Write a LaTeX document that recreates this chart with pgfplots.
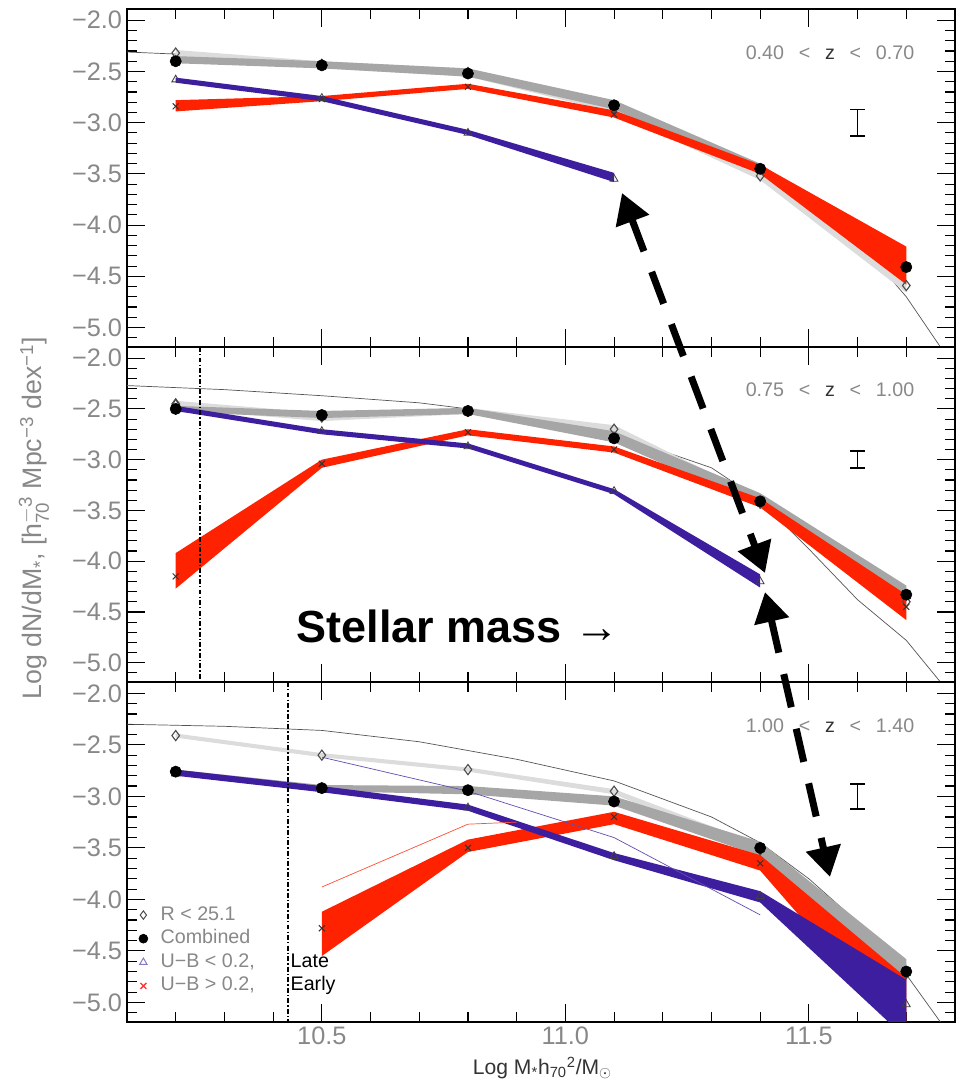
\documentclass[border=0pt]{standalone}
\usepackage{fontspec}
\setmainfont{Liberation Sans}
\usepackage{pgfplots}
\pgfplotsset{compat=1.18}
\usetikzlibrary{arrows.meta}
\definecolor{earlyred}{HTML}{FF2200}
\definecolor{lateblue}{HTML}{3D1E9E}
\definecolor{bandgray}{HTML}{A6A6A6}
\definecolor{lightband}{HTML}{DCDCDC}
\definecolor{labgray}{HTML}{888888}
\definecolor{schgray}{HTML}{555555}
\newcommand\zlab[2]{{\color{labgray}#1\hspace{0.75em}<\hspace{0.75em}}{\color{black!80}z}{\color{labgray}\hspace{0.75em}<\hspace{0.75em}#2}}
\pgfplotsset{
  panel/.style={
    scale only axis, width=207mm, anchor=south west,
    xmin=10.1, xmax=11.8, ymin=-5.19, ymax=-1.89,
    xtick={10.5,11,11.5},
    minor xtick={10.2,10.3,10.4,10.6,10.7,10.8,10.9,11.1,11.2,11.3,11.4,11.6,11.7},
    ytick={-5,-4.5,-4,-3.5,-3,-2.5,-2},
    yticklabels={−5.0,−4.5,−4.0,−3.5,−3.0,−2.5,−2.0},
    minor ytick={-5.1,-4.9,-4.8,-4.7,-4.6,-4.4,-4.3,-4.2,-4.1,-3.9,-3.8,-3.7,-3.6,-3.4,-3.3,-3.2,-3.1,-2.9,-2.8,-2.7,-2.6,-2.4,-2.3,-2.2,-2.1},
    major tick length=4.5mm, minor tick length=2.5mm,
    tick style={black, line width=0.8pt},
    axis line style={line width=1.2pt},
    ticklabel style={font=\fontsize{18}{18}\selectfont, text=labgray},
    clip=true, unbounded coords=jump,
  },
  rmark/.style={forget plot, only marks, mark=diamond, mark size=3.6pt, mark options={draw=black!70, fill=white, line width=0.8pt}},
  cmark/.style={forget plot, only marks, mark=*, mark size=4pt, mark options={draw=black, fill=black}},
  lmark/.style={forget plot, only marks, mark=triangle, mark size=3.2pt, mark options={draw=black!75, line width=0.6pt}},
  emark/.style={forget plot, only marks, mark=x, mark size=3pt, mark options={draw=black!80, line width=0.7pt}},
  band/.style={forget plot, draw=none, fill=#1},
  sch/.style={forget plot, draw=schgray, line width=0.5pt, mark=none},
  ddline/.style={forget plot, draw=black, line width=1.1pt, mark=none, dash pattern=on 3.5pt off 1.5pt on 1pt off 1.5pt},
  ebar/.style={forget plot, draw=black, line width=1.2pt, mark=none},
}
\begin{document}
\begin{tikzpicture}
\useasboundingbox (0,0) rectangle (240mm,271.25mm);

% ---------------- top panel 0.40<z<0.70
\begin{axis}[panel, at={(31.75mm,184.5mm)}, height=84.5mm, xticklabels={}]
\addplot[sch] coordinates {(10.1,-2.31)(10.3,-2.35)(10.5,-2.42)(10.7,-2.49)(10.9,-2.61)(11.1,-2.82)(11.3,-3.25)(11.4,-3.45)(11.5,-3.80)(11.6,-4.15)(11.7,-4.70)(11.77,-5.19)};
\addplot[band=lightband] coordinates {(10.2,-2.29)(10.5,-2.40)(10.8,-2.47)(11.1,-2.81)(11.4,-3.47)(11.7,-4.54)
  (11.7,-4.66)(11.4,-3.56)(11.1,-2.90)(10.8,-2.55)(10.5,-2.47)(10.2,-2.36)} -- cycle;
\addplot[band=bandgray] coordinates {(10.2,-2.35)(10.5,-2.40)(10.8,-2.47)(11.1,-2.78)(11.4,-3.40)(11.7,-4.36)
  (11.7,-4.46)(11.4,-3.49)(11.1,-2.87)(10.8,-2.55)(10.5,-2.47)(10.2,-2.42)} -- cycle;
\addplot[band=earlyred] coordinates {(10.2,-2.78)(10.5,-2.74)(10.8,-2.62)(11.1,-2.88)(11.4,-3.41)(11.7,-4.21)
  (11.7,-4.58)(11.4,-3.50)(11.1,-2.95)(10.8,-2.67)(10.5,-2.79)(10.2,-2.89)} -- cycle;
\addplot[band=lateblue] coordinates {(10.2,-2.56)(10.5,-2.74)(10.8,-3.07)(11.1,-3.49)
  (11.1,-3.58)(10.8,-3.12)(10.5,-2.79)(10.2,-2.61)} -- cycle;
\addplot[rmark] coordinates {(10.2,-2.32)(10.5,-2.43)(10.8,-2.51)(11.1,-2.86)(11.4,-3.52)(11.7,-4.59)};
\addplot[emark] coordinates {(10.2,-2.84)(10.5,-2.77)(10.8,-2.65)(11.1,-2.92)(11.4,-3.47)};
\addplot[lmark] coordinates {(10.2,-2.58)(10.5,-2.76)(10.8,-3.10)(11.1,-3.55)};
\addplot[cmark] coordinates {(10.2,-2.40)(10.5,-2.44)(10.8,-2.52)(11.1,-2.83)(11.4,-3.45)(11.7,-4.41)};
\addplot[ebar] coordinates {(11.585,-2.87)(11.615,-2.87)(nan,nan)(11.6,-2.87)(11.6,-3.13)(nan,nan)(11.585,-3.13)(11.615,-3.13)};
\end{axis}

% ---------------- middle panel 0.75<z<1.00
\begin{axis}[panel, at={(31.75mm,100.75mm)}, height=83.75mm, xticklabels={}]
\addplot[sch] coordinates {(10.1,-2.27)(10.3,-2.31)(10.5,-2.37)(10.7,-2.44)(10.9,-2.56)(11.1,-2.75)(11.3,-3.08)(11.4,-3.40)(11.5,-3.88)(11.6,-4.38)(11.7,-4.78)(11.77,-5.19)};
\addplot[band=lightband] coordinates {(10.2,-2.42)(10.5,-2.54)(10.8,-2.49)(11.1,-2.66)(11.4,-3.37)(11.7,-4.34)
  (11.7,-4.46)(11.4,-3.47)(11.1,-2.76)(10.8,-2.55)(10.5,-2.62)(10.2,-2.50)} -- cycle;
\addplot[band=bandgray] coordinates {(10.2,-2.47)(10.5,-2.52)(10.8,-2.49)(11.1,-2.72)(11.4,-3.33)(11.7,-4.24)
  (11.7,-4.40)(11.4,-3.46)(11.1,-2.83)(10.8,-2.55)(10.5,-2.59)(10.2,-2.53)} -- cycle;
\addplot[band=earlyred] coordinates {(10.2,-3.92)(10.5,-3.00)(10.8,-2.70)(11.1,-2.87)(11.4,-3.38)(11.7,-4.33)
  (11.7,-4.58)(11.4,-3.47)(11.1,-2.93)(10.8,-2.76)(10.5,-3.08)(10.2,-4.27)} -- cycle;
\addplot[band=lateblue] coordinates {(10.2,-2.47)(10.5,-2.70)(10.8,-2.84)(11.1,-3.29)(11.4,-4.13)
  (11.4,-4.26)(11.1,-3.34)(10.8,-2.89)(10.5,-2.75)(10.2,-2.52)} -- cycle;
\addplot[ddline] coordinates {(10.25,-1.89)(10.25,-5.19)};
\addplot[rmark] coordinates {(10.2,-2.45)(10.5,-2.58)(10.8,-2.52)(11.1,-2.70)(11.4,-3.43)(11.7,-4.40)};
\addplot[emark] coordinates {(10.2,-4.15)(10.5,-3.04)(10.8,-2.73)(11.1,-2.90)(11.4,-3.43)(11.7,-4.45)};
\addplot[lmark] coordinates {(10.2,-2.45)(10.5,-2.72)(10.8,-2.87)(11.1,-3.31)(11.4,-4.20)};
\addplot[cmark] coordinates {(10.2,-2.50)(10.5,-2.56)(10.8,-2.52)(11.1,-2.79)(11.4,-3.41)(11.7,-4.33)};
\addplot[ebar] coordinates {(11.585,-2.915)(11.615,-2.915)(nan,nan)(11.6,-2.915)(11.6,-3.085)(nan,nan)(11.585,-3.085)(11.615,-3.085)};
\end{axis}

% ---------------- bottom panel 1.00<z<1.40
\begin{axis}[panel, at={(31.75mm,15.75mm)}, height=85mm, xticklabels={10.5,11.0,11.5},
  legend style={at={(0.014,0.35)}, anchor=north west, draw=none, fill=none,
    font=\fontsize{14}{14}\selectfont, text=labgray, inner sep=0pt, row sep=0pt, column sep=2.6mm,
    nodes={inner sep=0.6mm, text height=3.6mm, text depth=1.1mm}},
  legend cell align=left]
\addlegendimage{only marks, mark=diamond, mark size=3pt, mark options={draw=black!70, line width=0.7pt}}
\addlegendentry{R < 25.1}
\addlegendimage{only marks, mark=*, mark size=3.2pt, mark options={draw=black, fill=black}}
\addlegendentry{Combined}
\addlegendimage{only marks, mark=triangle, mark size=3pt, mark options={draw=lateblue!60, line width=0.7pt}}
\addlegendentry{\makebox[32.5mm][l]{U−B < 0.2,}\textcolor{black}{Late}}
\addlegendimage{only marks, mark=x, mark size=3pt, mark options={draw=red!80, line width=1pt}}
\addlegendentry{\makebox[32.5mm][l]{U−B > 0.2,}\textcolor{black}{Early}}
\addplot[sch] coordinates {(10.1,-2.30)(10.3,-2.32)(10.5,-2.36)(10.7,-2.47)(10.9,-2.64)(11.1,-2.85)(11.3,-3.20)(11.4,-3.45)(11.5,-3.80)(11.6,-4.22)(11.7,-4.73)(11.77,-5.19)};
\addplot[band=lightband] coordinates {(10.2,-2.39)(10.5,-2.58)(10.8,-2.72)(11.1,-2.93)(11.4,-3.47)(11.7,-4.62)
  (11.7,-4.78)(11.4,-3.56)(11.1,-2.98)(10.8,-2.76)(10.5,-2.62)(10.2,-2.43)} -- cycle;
\addplot[band=bandgray] coordinates {(10.2,-2.74)(10.5,-2.89)(10.8,-2.90)(11.1,-3.00)(11.4,-3.44)(11.7,-4.58)
  (11.7,-4.78)(11.4,-3.58)(11.1,-3.09)(10.8,-2.98)(10.5,-2.95)(10.2,-2.79)} -- cycle;
\addplot[band=earlyred] coordinates {(10.5,-4.12)(10.8,-3.42)(11.1,-3.15)(11.4,-3.57)(11.7,-4.76)
  (11.7,-5.35)(11.4,-3.72)(11.1,-3.27)(10.8,-3.54)(10.5,-4.55)} -- cycle;
\addplot[band=lateblue] coordinates {(10.2,-2.74)(10.5,-2.90)(10.8,-3.08)(11.1,-3.55)(11.4,-3.92)(11.7,-4.78)
  (11.7,-5.35)(11.4,-4.03)(11.1,-3.62)(10.8,-3.14)(10.5,-2.96)(10.2,-2.80)} -- cycle;
\addplot[forget plot, draw=lateblue!80, line width=0.5pt, mark=none] coordinates {(10.5,-2.62)(10.8,-2.95)(11.1,-3.40)(11.4,-4.15)};
\addplot[forget plot, draw=earlyred!80, line width=0.5pt, mark=none] coordinates {(10.5,-3.88)(10.8,-3.27)(10.9,-3.25)};
\addplot[ddline] coordinates {(10.43,-1.89)(10.43,-5.19)};
\addplot[rmark] coordinates {(10.2,-2.41)(10.5,-2.60)(10.8,-2.74)(11.1,-2.95)(11.4,-3.52)(11.7,-4.72)};
\addplot[emark] coordinates {(10.5,-4.28)(10.8,-3.50)(11.1,-3.20)(11.4,-3.65)};
\addplot[lmark] coordinates {(10.2,-2.78)(10.5,-2.94)(10.8,-3.11)(11.1,-3.58)(11.4,-3.97)(11.7,-5.02)};
\addplot[cmark] coordinates {(10.2,-2.76)(10.5,-2.92)(10.8,-2.94)(11.1,-3.05)(11.4,-3.50)(11.7,-4.70)};
\addplot[ebar] coordinates {(11.585,-2.88)(11.615,-2.88)(nan,nan)(11.6,-2.88)(11.6,-3.12)(nan,nan)(11.585,-3.12)(11.615,-3.12)};
\end{axis}

% ---------------- texts
\node[anchor=base, font=\fontsize{14}{14}\selectfont] at (207.5mm,256.25mm) {\zlab{0.40}{0.70}};
\node[anchor=base, font=\fontsize{14}{14}\selectfont] at (207.5mm,172mm) {\zlab{0.75}{1.00}};
\node[anchor=base, font=\fontsize{14}{14}\selectfont] at (207.5mm,88mm) {\zlab{1.00}{1.40}};
\node[rotate=90, text=labgray, font=\fontsize{19}{19}\selectfont] at (8.5mm,141.75mm)
  {Log dN/dM\textsubscript{*}, [h$_{\mathrm{70}}^{\mathrm{-3}}$ Mpc\textsuperscript{−3} dex\textsuperscript{−1}]};
\node[anchor=base west, text=black!80, font=\fontsize{15}{15}\selectfont] at (117mm,2.6mm)
  {Log M\textsubscript{*}h\textsubscript{70}\textsuperscript{2}/M$_\odot$};
\node[anchor=base west, font=\fontsize{32}{32}\selectfont] at (73mm,110.5mm)
  {\bfseries Stellar mass {\normalfont →}};
% ---------------- arrows
\draw[line width=1.75mm, dash pattern=on 8.5mm off 5.5mm,
  {Triangle[length=7.5mm,width=8.5mm]}-{Triangle[length=7.5mm,width=8.5mm]}]
  (155.5mm,223mm) -- (191.25mm,128mm);
\draw[line width=1.75mm, dash pattern=on 8.5mm off 5.5mm,
  {Triangle[length=7.5mm,width=8.5mm]}-{Triangle[length=7.5mm,width=8.5mm]}]
  (191.25mm,123.25mm) -- (207.5mm,52mm);
\end{tikzpicture}
\end{document}
